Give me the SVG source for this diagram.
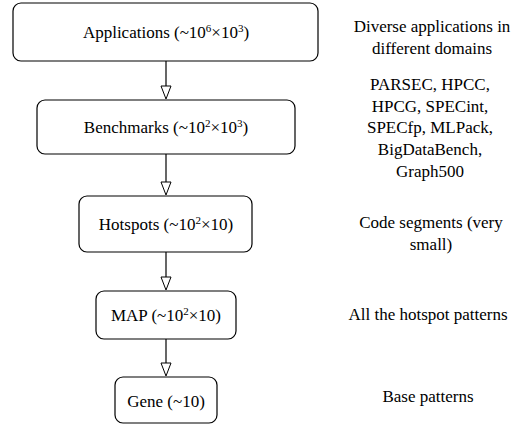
<svg xmlns="http://www.w3.org/2000/svg" width="527" height="425" viewBox="0 0 527 425">
<style>
.box{fill:#fff;stroke:#000;stroke-width:1.2}
.t{font-size:17px;fill:#000;text-anchor:middle}
.sup{font-size:11px}
.edge{stroke:#000;stroke-width:1.2;fill:none}
.head{fill:#fff;stroke:#000;stroke-width:1}
</style>
<g id="connectors">
<path class="edge" d="M166,61 V86"/>
<path class="head" d="M161,86 L171,86 L166,99 Z"/>
<path class="edge" d="M166,154 V182"/>
<path class="head" d="M161,182 L171,182 L166,195 Z"/>
<path class="edge" d="M166,252 V277"/>
<path class="head" d="M161,277 L171,277 L166,290 Z"/>
<path class="edge" d="M166,339 V363"/>
<path class="head" d="M161,363 L171,363 L166,376 Z"/>
</g>
<g font-family="Liberation Serif, DejaVu Serif, serif">
<g id="applications">
<rect class="box" x="13" y="3" width="305" height="58" rx="8"/>
<text class="t" x="166" y="38">Applications (~10<tspan class="sup" dy="-6">6</tspan><tspan dy="6">×10</tspan><tspan class="sup" dy="-6">3</tspan><tspan dy="6">)</tspan></text>
</g>
<g id="benchmarks">
<rect class="box" x="37" y="100" width="258" height="54" rx="8"/>
<text class="t" x="166" y="133">Benchmarks (~10<tspan class="sup" dy="-6">2</tspan><tspan dy="6">×10</tspan><tspan class="sup" dy="-6">3</tspan><tspan dy="6">)</tspan></text>
</g>
<g id="hotspots">
<rect class="box" x="79" y="196" width="173" height="56" rx="8"/>
<text class="t" x="166" y="230">Hotspots (~10<tspan class="sup" dy="-6">2</tspan><tspan dy="6">×10)</tspan></text>
</g>
<g id="map">
<rect class="box" x="96" y="291" width="140" height="48" rx="8"/>
<text class="t" x="166" y="321">MAP (~10<tspan class="sup" dy="-6">2</tspan><tspan dy="6">×10)</tspan></text>
</g>
<g id="gene">
<rect class="box" x="115" y="377" width="102" height="46" rx="8"/>
<text class="t" x="166" y="407">Gene (~10)</text>
</g>
<g id="notes">
<text class="t" x="432" y="32">Diverse applications in</text>
<text class="t" x="432" y="54">different domains</text>
<text class="t" x="430" y="90">PARSEC, HPCC,</text>
<text class="t" x="430" y="112">HPCG, SPECint,</text>
<text class="t" x="430" y="133">SPECfp, MLPack,</text>
<text class="t" x="430" y="155">BigDataBench,</text>
<text class="t" x="430" y="177">Graph500</text>
<text class="t" x="431" y="228">Code segments (very</text>
<text class="t" x="431" y="250">small)</text>
<text class="t" x="428" y="320">All the hotspot patterns</text>
<text class="t" x="428" y="402">Base patterns</text>
</g>
</g>
</svg>
